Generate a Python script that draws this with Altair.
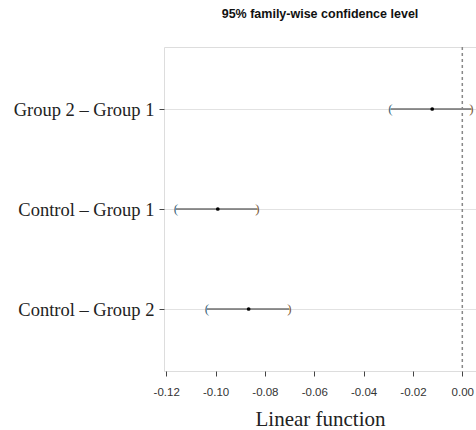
import altair as alt
import pandas as pd

# Pairwise comparisons (Tukey-style simultaneous intervals)
comparisons = ["Group 2 \u2013 Group 1", "Control \u2013 Group 1", "Control \u2013 Group 2"]
estimates = [-0.0122, -0.0991, -0.0866]
lower = [-0.0291, -0.1161, -0.1035]
upper = [0.0037, -0.0830, -0.0701]
x_ticks = [-0.12, -0.10, -0.08, -0.06, -0.04, -0.02, 0.00]

df = pd.DataFrame({"comp": comparisons, "est": estimates, "lwr": lower, "upr": upper})

x_scale = alt.Scale(domain=[-0.1209, 0.00555], nice=False, zero=False)
y_scale = alt.Scale(type="point", domain=comparisons, padding=0.62)

x_axis = alt.Axis(
    values=x_ticks, title="Linear function",
    labelExpr="replace(format(datum.value, '.2f'), '\u2212', '-')",
    titleFont="Liberation Serif", titleFontSize=21, titleFontWeight="normal",
    titleColor="#222", titlePadding=11,
    labelFont="Liberation Sans", labelFontSize=11.5, labelColor="#333", labelPadding=10,
    tickSize=5, tickColor="#444", domain=False, grid=False,
)
y_axis = alt.Axis(
    title=None, labelFont="Liberation Serif", labelFontSize=18.5, labelColor="#222",
    labelPadding=5, tickSize=5, tickColor="#444", domain=False,
    grid=True, gridColor="#e2e2e2", gridWidth=1,
)

base = alt.Chart(df)

ci = base.mark_rule(color="#2a2a2a", strokeWidth=1.1).encode(
    x=alt.X("lwr:Q", scale=x_scale, axis=x_axis),
    x2="upr:Q",
    y=alt.Y("comp:N", scale=y_scale, axis=y_axis, sort=comparisons),
)

left_br = base.mark_text(text="(", font="Liberation Serif", fontSize=13, color="#3b6478",
                         baseline="middle").encode(
    x=alt.X("lwr:Q", scale=x_scale), y=alt.Y("comp:N", scale=y_scale, sort=comparisons))
right_br = base.mark_text(text=")", font="Liberation Serif", fontSize=13, color="#7a5a3a",
                          baseline="middle").encode(
    x=alt.X("upr:Q", scale=x_scale), y=alt.Y("comp:N", scale=y_scale, sort=comparisons))

pts = base.mark_point(filled=True, shape="circle", size=14, color="#000", opacity=1).encode(
    x=alt.X("est:Q", scale=x_scale), y=alt.Y("comp:N", scale=y_scale, sort=comparisons))

zero = alt.Chart(pd.DataFrame({"z": [0.0]})).mark_rule(
    color="#888", strokeDash=[3, 3], strokeWidth=1.5).encode(x=alt.X("z:Q", scale=x_scale))

chart = alt.layer(ci, zero, left_br, right_br, pts).properties(
    width=312, height=324,
    title=alt.TitleParams("95% family-wise confidence level", font="Liberation Sans",
                          fontSize=12.5, fontWeight="bold", color="#111", offset=26,
                          anchor="middle"),
    autosize=alt.AutoSizeParams(type="none"),
    padding={"left": 164, "top": 47, "right": 0, "bottom": 59},
).configure_view(stroke="#888", strokeWidth=1.3).configure(background="white")

chart.save("out.html", embed_options={"renderer": "svg", "actions": False})
